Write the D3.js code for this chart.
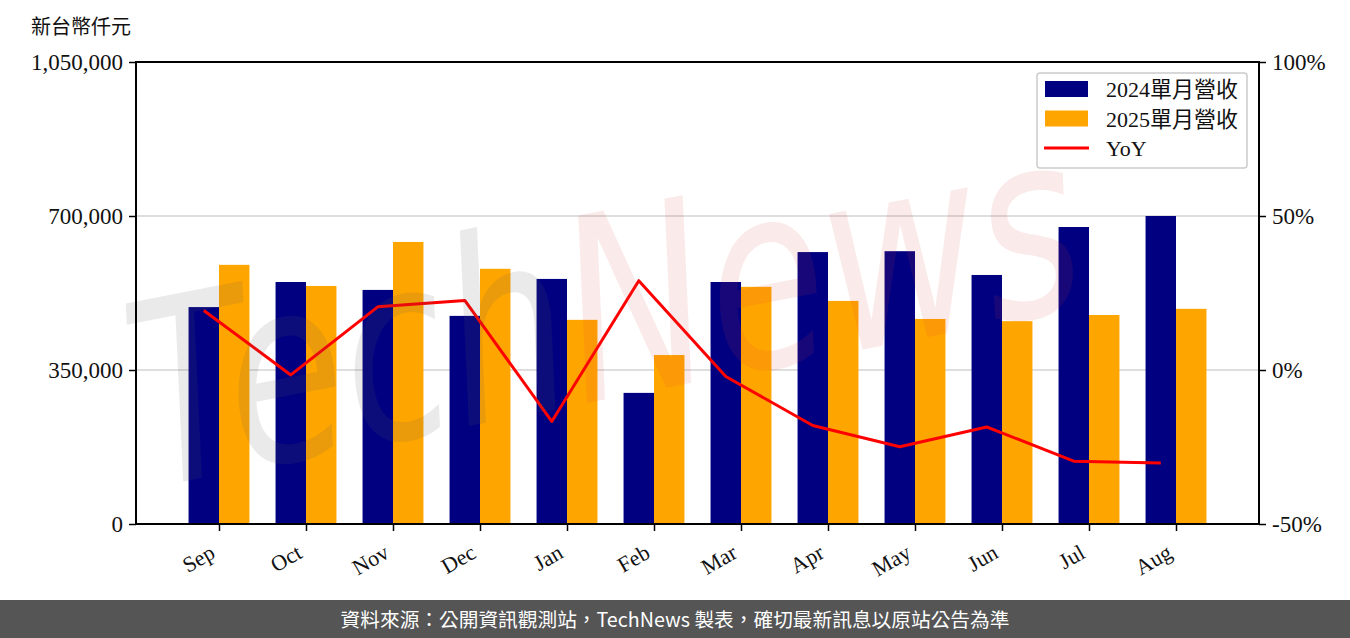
<!DOCTYPE html>
<html>
<head>
<meta charset="utf-8">
<script src="https://cdn.jsdelivr.net/npm/d3@7"></script>
<style>
  html, body { margin: 0; padding: 0; background: #fff; }
  svg { display: block; }
</style>
</head>
<body>
<div id="chart"></div>
<script>
const months = ["Sep","Oct","Nov","Dec","Jan","Feb","Mar","Apr","May","Jun","Jul","Aug"];
const rev2024 = [493000, 550000, 532000, 473000, 557000, 298000, 550000, 618000, 620000, 566000, 675000, 700000];
const rev2025 = [589000, 541000, 641000, 580000, 464000, 384000, 539000, 507000, 466000, 461000, 475000, 489000];
const yoy = [19.3, -1.6, 20.5, 22.6, -16.7, 29.0, -2.1, -18.0, -24.9, -18.5, -29.6, -30.2];
const leftTicks = [0, 350000, 700000, 1050000];
const rightTicks = [-50, 0, 50, 100];
const seriesNames = ["2024單月營收", "2025單月營收", "YoY"];
const colors = { a: "#000080", b: "#FFA500", line: "#FF0000" };

const W = 1350, H = 638;
const M = { left: 136, right: 1259, top: 62, bottom: 524 };
const serif = "'Liberation Serif', 'DejaVu Serif', 'Noto Sans CJK TC', serif";
const cjk = "'Noto Sans CJK TC', 'Noto Sans', sans-serif";

const svg = d3.select("#chart").append("svg").attr("width", W).attr("height", H);

const x = d3.scaleLinear().domain([-0.954, months.length - 1 + 0.954]).range([M.left, M.right]);
const y = d3.scaleLinear().domain([0, 1050000]).range([M.bottom, M.top]);
const y2 = d3.scaleLinear().domain([-50, 100]).range([M.bottom, M.top]);
const bw = x(0.35) - x(0);

// grid
svg.append("g").selectAll("line").data(leftTicks.filter(d => d > 0 && d < 1050000)).join("line")
  .attr("x1", M.left).attr("x2", M.right)
  .attr("y1", d => y(d)).attr("y2", d => y(d))
  .attr("stroke", "#d3d3d3").attr("stroke-width", 1.6);

// bars
svg.append("g").selectAll("rect").data(rev2024).join("rect")
  .attr("x", (d, i) => x(i) - bw).attr("width", bw)
  .attr("y", d => y(d)).attr("height", d => y(0) - y(d))
  .attr("fill", colors.a);
svg.append("g").selectAll("rect").data(rev2025).join("rect")
  .attr("x", (d, i) => x(i)).attr("width", bw)
  .attr("y", d => y(d)).attr("height", d => y(0) - y(d))
  .attr("fill", colors.b);

// line
const line = d3.line().x((d, i) => x(i) - bw / 2).y(d => y2(d));
svg.append("path").datum(yoy).attr("d", line)
  .attr("fill", "none").attr("stroke", colors.line).attr("stroke-width", 3)
  .attr("stroke-linejoin", "round");

// watermark
const wm = svg.append("text")
  .attr("transform", "translate(150,488) rotate(-11)")
  .attr("font-family", "'DejaVu Sans', sans-serif")
  .attr("font-style", "italic")
  .attr("font-size", 255)
  .attr("textLength", 960).attr("lengthAdjust", "spacingAndGlyphs");
wm.append("tspan").text("Tech").attr("fill", "rgba(90,90,90,0.13)");
wm.append("tspan").text("News").attr("fill", "rgba(215,60,60,0.11)");

// axes
const axL = d3.axisLeft(y).tickValues(leftTicks).tickFormat(d3.format(",")).tickSize(7).tickPadding(6);
const gL = svg.append("g").attr("transform", `translate(${M.left},0)`).call(axL);
const axR = d3.axisRight(y2).tickValues(rightTicks).tickFormat(d => d + "%").tickSize(7).tickPadding(6);
const gR = svg.append("g").attr("transform", `translate(${M.right},0)`).call(axR);
const axB = d3.axisBottom(x).tickValues(d3.range(months.length)).tickFormat(i => months[i]).tickSize(7).tickPadding(6);
const gB = svg.append("g").attr("transform", `translate(0,${M.bottom})`).call(axB);

[gL, gR, gB].forEach(g => {
  g.select(".domain").remove();
  g.selectAll(".tick line").attr("stroke", "#000").attr("stroke-width", 1.5);
  g.selectAll("text").attr("font-family", serif).attr("font-size", 23).attr("fill", "#111");
});
gB.selectAll("text")
  .attr("text-anchor", "end").attr("dy", null)
  .attr("dominant-baseline", "hanging")
  .attr("y", 0).attr("x", 0)
  .attr("font-size", 22)
  .attr("transform", "translate(-11,19) rotate(-30)");

// frame
svg.append("rect").attr("x", M.left).attr("y", M.top)
  .attr("width", M.right - M.left).attr("height", M.bottom - M.top)
  .attr("fill", "none").attr("stroke", "#000").attr("stroke-width", 2);

// unit label
svg.append("text").attr("x", 31).attr("y", 34).text("新台幣仟元")
  .attr("font-family", cjk).attr("font-size", 20).attr("fill", "#111");

// legend
const lg = svg.append("g").attr("transform", "translate(1037,73)");
lg.append("rect").attr("width", 210).attr("height", 95).attr("rx", 3)
  .attr("fill", "rgba(255,255,255,0.8)").attr("stroke", "#ccc").attr("stroke-width", 1.5);
const items = [
  { name: seriesNames[0], type: "rect", c: colors.a },
  { name: seriesNames[1], type: "rect", c: colors.b },
  { name: seriesNames[2], type: "line", c: colors.line }
];
items.forEach((it, i) => {
  const cy = 16 + i * 29.5;
  if (it.type === "rect") {
    lg.append("rect").attr("x", 8).attr("y", cy - 8).attr("width", 43).attr("height", 16).attr("fill", it.c);
  } else {
    lg.append("line").attr("x1", 7).attr("x2", 52).attr("y1", cy).attr("y2", cy)
      .attr("stroke", it.c).attr("stroke-width", 3);
  }
  lg.append("text").attr("x", 69).attr("y", cy + 8).text(it.name)
    .attr("font-family", serif).attr("font-size", 22).attr("fill", "#111");
});

// footer
svg.append("rect").attr("x", 0).attr("y", 600).attr("width", W).attr("height", 38).attr("fill", "#555555");
svg.append("text").attr("x", W / 2).attr("y", 627).attr("text-anchor", "middle")
  .text("資料來源：公開資訊觀測站，TechNews 製表，確切最新訊息以原站公告為準")
  .attr("font-family", cjk).attr("font-size", 19.7).attr("fill", "#fff");
</script>
</body>
</html>
